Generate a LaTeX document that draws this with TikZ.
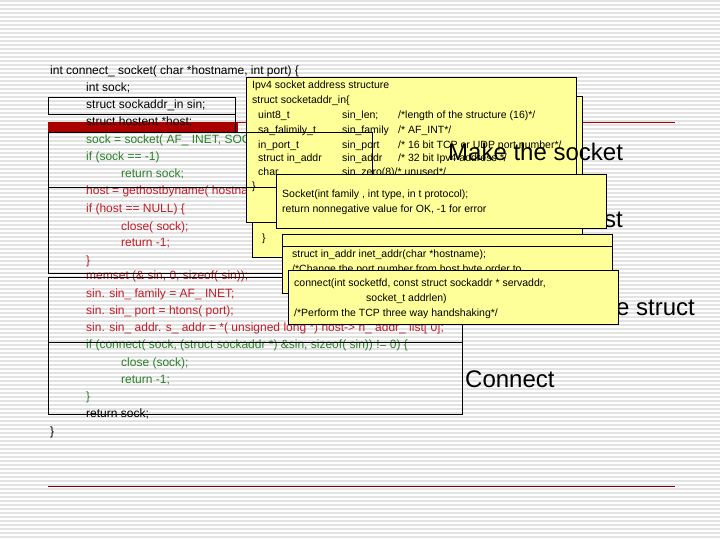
\documentclass[tikz,border=0pt]{standalone}
\usepackage{fontspec}
\setmainfont{Liberation Sans}
\newfontfamily\yfont{Liberation Sans}
\definecolor{cgreen}{RGB}{40,130,40}
\definecolor{cred}{RGB}{190,30,40}
\definecolor{dred}{RGB}{170,0,0}
\definecolor{yel}{RGB}{255,255,153}
\begin{document}
\begin{tikzpicture}[x=1pt,y=-1pt,
  code/.style={anchor=base west,inner sep=0pt,font=\fontsize{12}{12}\selectfont},
  ytxt/.style={anchor=base west,inner sep=0pt,font=\yfont\fontsize{10.5}{10.5}\selectfont},
  big/.style={anchor=base west,inner sep=0pt,font=\fontsize{24}{24}\selectfont},
  ybox/.style={fill=yel,draw=black,line width=0.6pt},
  obox/.style={draw=black,line width=0.8pt}]
\useasboundingbox (0,0) rectangle (720,540);
\fill[white] (0,0) rectangle (720,540);
\foreach \yy in {1,5,...,540} \draw[gray!22,line width=1.6pt] (0,\yy) -- (720,\yy);
% red lines
\draw[dred,line width=1pt] (48,123) -- (675,123);
\fill[dred] (48,122) rectangle (238,132);
\draw[dred!70!black,line width=1pt] (48,486) -- (675,486);
% big labels
\node[big,anchor=base east] (lhost) at (623,227) {Resolve the host};
\node[big,anchor=base east] (lfill) at (695,315) {Fill the struct};
\node[big] (lconn) at (465,387) {Connect};
% code
\node[code] (c1) at (50,75) {int connect\_ socket( char *hostname, int port) \{};
\node[code] (c2) at (86,92) {int sock;};
\node[code] (c3) at (86,109) {struct sockaddr\_in sin;};
\node[code] (c4) at (86,126) {struct hostent *host;};
\node[code,cgreen] (c5) at (86,144) {sock = socket( AF\_ INET, SOCK\_ STREAM, 0);};
\node[code,cgreen] (c6) at (86,161) {if (sock == -1)};
\node[code,cgreen] (c7) at (121,178) {return sock;};
\node[code,cred] (c8) at (86,195) {host = gethostbyname( hostname);};
\node[code,cred] (c9) at (86,213) {if (host == NULL) \{};
\node[code,cred] (c10) at (121,230) {close( sock);};
\node[code,cred] (c11) at (121,247) {return -1;};
\node[code,cred] (c12) at (86,264) {\}};
\node[code,cred] (c13) at (86,279) {memset (\& sin, 0, sizeof( sin));};
\node[code,cred] (c14) at (86,297) {sin. sin\_ family = AF\_ INET;};
\node[code,cred] (c15) at (86,314) {sin. sin\_ port = htons( port);};
\node[code,cred] (c16) at (86,331) {sin. sin\_ addr. s\_ addr = *( unsigned long *) host-> h\_ addr\_ list[ 0];};
\node[code,cgreen] (c17) at (86,348) {if (connect( sock, (struct sockaddr *) \&sin, sizeof( sin)) != 0) \{};
\node[code,cgreen] (c18) at (121,366) {close (sock);};
\node[code,cgreen] (c19) at (121,383) {return -1;};
\node[code,cgreen] (c20) at (86,400) {\}};
\node[code] (c21) at (86,417) {return sock;};
\node[code] (c22) at (50,435) {\}};
% outline boxes
\draw[obox] (48,97) rectangle (235,114);
\draw[obox] (48,114) -- (235,114) -- (235,132);
\draw[obox] (48,187) rectangle (300,273);
\draw[obox] (48,277) rectangle (462,342);
\draw[obox] (48,342) rectangle (462,414);
% yellow boxes behind
\node[ybox,minimum width=330,minimum height=161,anchor=north west,inner sep=0pt] (yb) at (252,96) {};
\node[ytxt] (ybt) at (262,241) {\}};
\node[ybox,minimum width=330,minimum height=59,anchor=north west,inner sep=0pt] (yc) at (282,234) {};
\draw[line width=0.6pt] (yc.west |- 0,246) -- (yc.east |- 0,246);
\node[ytxt] (yc1) at (292,258) {struct in\_addr inet\_addr(char *hostname);};
\node[ytxt] (yc2) at (292,272) {/*Change the port number from host byte order to};
% ipv4 box
\node[ybox,minimum width=330,minimum height=145,anchor=north west,inner sep=0pt] (ya) at (246,77) {};
\node[ytxt] (ya1) at (252,89) {Ipv4 socket address structure};
\node[ytxt] (ya2) at (252,104) {struct socketaddr\_in\{};
\node[ytxt] (ya3) at (258,119) {uint8\_t};
\node[ytxt] (ya3b) at (342,119) {sin\_len;};
\node[ytxt] (ya3c) at (398,119) {/*length of the structure (16)*/};
\node[ytxt] (ya4) at (258,134) {sa\_falimily\_t};
\node[ytxt] (ya4b) at (342,134) {sin\_family};
\node[ytxt] (ya4c) at (398,134) {/* AF\_INT*/};
\node[ytxt] (ya5) at (258,149) {in\_port\_t};
\node[ytxt] (ya5b) at (342,149) {sin\_port};
\node[ytxt] (ya5c) at (398,149) {/* 16 bit TCP or UDP port number*/};
\node[ytxt] (ya6) at (258,162) {struct in\_addr};
\node[ytxt] (ya6b) at (342,162) {sin\_addr};
\node[ytxt] (ya6c) at (398,162) {/* 32 bit Ipv4 address */};
\node[ytxt] (ya7) at (258,176) {char};
\node[ytxt] (ya7b) at (342,176) {sin\_zero(8)/* unused*/};
\node[ytxt] (ya8) at (252,190) {\}};
% socket code box outline over ipv4
\draw[obox] (48,132) rectangle (372,187);
\node[big] (lmake) at (448,161) {Make the socket};
% socket box
\node[ybox,minimum width=330,minimum height=54,anchor=north west,inner sep=0pt] (yd) at (276,174) {};
\node[ytxt] (yd1) at (282,198) {Socket(int family , int type, in t protocol);};
\node[ytxt] (yd2) at (282,212) {return nonnegative value for OK, -1 for error};
% connect box
\node[ybox,minimum width=330,minimum height=54,anchor=north west,inner sep=0pt] (ye) at (288,270) {};
\node[ytxt] (ye1) at (294,286) {connect(int socketfd, const struct sockaddr * servaddr,};
\node[ytxt] (ye2) at (366,301) {socket\_t addrlen)};
\node[ytxt] (ye3) at (294,316) {/*Perform the TCP three way handshaking*/};
\end{tikzpicture}
\end{document}
